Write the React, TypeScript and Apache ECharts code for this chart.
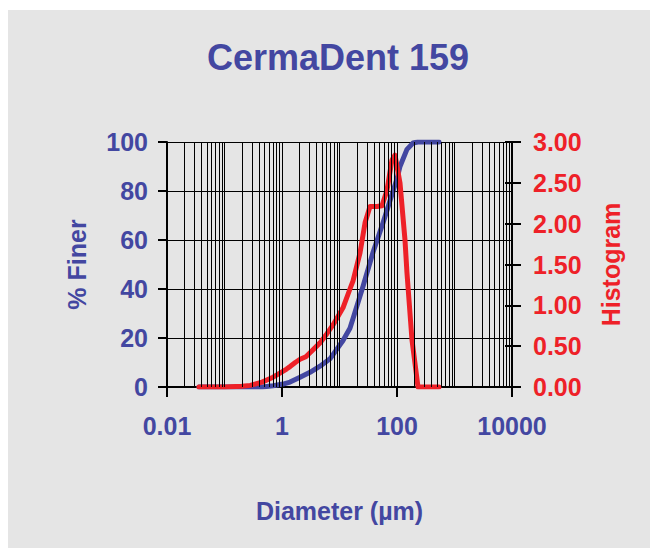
import React, { useEffect, useRef } from "react";
import * as echarts from "echarts";

// Histogram (right axis) : diameter (µm) and value
const histDiam = [0.036, 0.1, 0.2, 0.28, 0.45, 0.7, 0.92, 1.2, 1.38, 1.7, 2.06, 2.6, 3.07, 4.58, 6.0, 7.71, 11.5, 15.2, 17.2, 22.7, 27.8, 33.9, 45, 54.8, 67, 81.8, 92.2, 112.7, 137.7, 149, 182, 232, 537];
const histValues = [0, 0, 0.01, 0.02, 0.06, 0.12, 0.17, 0.22, 0.25, 0.3, 0.34, 0.37, 0.42, 0.54, 0.65, 0.76, 0.97, 1.2, 1.3, 1.64, 2.01, 2.21, 2.21, 2.22, 2.41, 2.78, 2.84, 2.5, 1.8, 1.4, 0.58, 0, 0];

// Cumulative % finer (left axis)
const finerDiam = [0.036, 0.45, 0.7, 1.04, 1.38, 2.06, 3.07, 4.58, 6.84, 11.5, 15.2, 17.2, 25.6, 38.3, 57.1, 75.5, 100, 112.7, 149, 190, 230, 537];
const finerValues = [0, 0, 0.5, 1.2, 2, 4, 6, 8.5, 11.5, 19, 24, 28, 41, 55, 67, 76, 85, 90, 97, 99.6, 100, 100];

const titleText = "CermaDent 159";
const xName = "Diameter (µm)";
const leftName = "% Finer";
const rightName = "Histogram";

// minor vertical grid lines at 1..9 × 10^k
const decades = [-2, -1, 0, 1, 2, 3];
const multipliers = [1, 2, 3, 4, 5, 6, 7, 8, 9];

const BLUE = "#4347a1";
const RED = "#ee2128";
const FONT = "Liberation Sans, Arial, sans-serif";

export default function App() {
  const ref = useRef<HTMLDivElement>(null);
  useEffect(() => {
    if (!ref.current) return;
    const chart = echarts.init(ref.current, undefined, { renderer: "svg" });
    const gridVals: number[] = [];
    decades.forEach((k) => {
      multipliers.forEach((m) => {
        const v = Number((m * Math.pow(10, k)).toPrecision(6));
        gridVals.push(v);
      });
    });
    gridVals.push(10000);
    const fmt = (v: number) => String(Number(Number(v).toPrecision(6)));
    chart.setOption({
      animation: false,
      backgroundColor: "#ffffff",
      graphic: [
        {
          type: "rect",
          z: -10,
          silent: true,
          shape: { x: 8, y: 10, width: 642, height: 538 },
          style: { fill: "#e5e5e5" },
        },
      ],
      title: {
        text: titleText,
        left: 333,
        top: 34,
        textAlign: "center",
        textStyle: { fontFamily: FONT, fontWeight: "bold", fontSize: 36, color: BLUE },
      },
      grid: { left: 167, right: 138, top: 142, bottom: 161 },
      xAxis: {
        type: "log",
        logBase: 100,
        min: 0.01,
        max: 10000,
        name: xName,
        nameLocation: "middle",
        nameGap: 111,
        nameTextStyle: { fontFamily: FONT, fontWeight: "bold", fontSize: 25, color: BLUE },
        axisLine: { show: true, lineStyle: { color: "#000", width: 2 } },
        axisTick: { show: true, inside: false, length: 10, lineStyle: { color: "#000", width: 2 } },
        axisLabel: { margin: 26, formatter: fmt, fontFamily: FONT, fontWeight: "bold", fontSize: 25, color: BLUE },
        splitLine: { show: true, lineStyle: { color: "#000", width: 1 } },
      },
      yAxis: [
        {
          type: "value",
          min: 0,
          max: 100,
          interval: 20,
          position: "left",
          name: leftName,
          nameLocation: "middle",
          nameGap: 78,
          nameRotate: 90,
          nameTextStyle: { fontFamily: FONT, fontWeight: "bold", fontSize: 25, color: BLUE },
          axisLine: { show: true, lineStyle: { color: "#000", width: 2 } },
          axisTick: { show: true, inside: false, length: 9, lineStyle: { color: "#000", width: 2 } },
          axisLabel: { margin: 19, fontFamily: FONT, fontWeight: "bold", fontSize: 25, color: BLUE },
          splitLine: { show: true, lineStyle: { color: "#000", width: 1 } },
        },
        {
          type: "value",
          min: 0,
          max: 3,
          interval: 0.5,
          position: "right",
          name: rightName,
          nameLocation: "middle",
          nameGap: 86,
          nameRotate: 90,
          nameTextStyle: { fontFamily: FONT, fontWeight: "bold", fontSize: 25, color: RED },
          axisLine: { show: true, lineStyle: { color: "#000", width: 2 } },
          axisTick: { show: true, inside: false, length: 9, lineStyle: { color: "#000", width: 2 } },
          axisLabel: { margin: 21, formatter: (v: number) => v.toFixed(2), fontFamily: FONT, fontWeight: "bold", fontSize: 25, color: RED },
          splitLine: { show: false },
        },
        {
          type: "value",
          min: 0,
          max: 3,
          interval: 0.5,
          position: "right",
          axisLine: { show: false },
          axisTick: { show: true, inside: true, length: 7, lineStyle: { color: "#000", width: 2 } },
          axisLabel: { show: false },
          splitLine: { show: false },
        },
      ],
      series: [
        {
          name: "grid",
          type: "line",
          data: [],
          silent: true,
          z: 1,
          markLine: {
            silent: true,
            symbol: ["none", "none"],
            label: { show: false },
            lineStyle: { color: "#000", width: 1, type: "solid" },
            emphasis: { disabled: true },
            data: gridVals.map((v) => ({ xAxis: v })),
          },
        },
        {
          name: leftName,
          type: "line",
          yAxisIndex: 0,
          z: 3,
          symbol: "none",
          lineStyle: { color: BLUE, width: 5, join: "round", cap: "round" },
          data: finerDiam.map((d, i) => [d, finerValues[i]]),
        },
        {
          name: rightName,
          type: "line",
          yAxisIndex: 1,
          z: 4,
          symbol: "none",
          lineStyle: { color: RED, width: 5, join: "round", cap: "round" },
          data: histDiam.map((d, i) => [d, histValues[i]]),
        },
      ],
    });
    return () => chart.dispose();
  }, []);
  return (
    <div
      ref={ref}
      style={{ position: "fixed", left: 0, top: 0, width: 650, height: 548 }}
    />
  );
}
